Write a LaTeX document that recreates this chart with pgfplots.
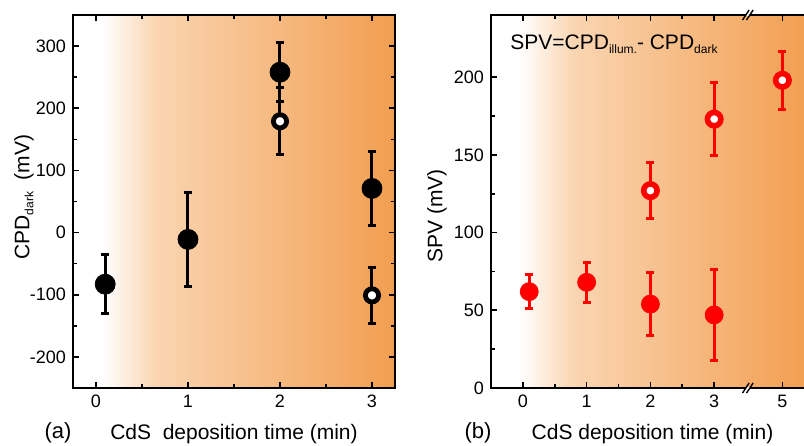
\documentclass[border=0pt]{standalone}
\usepackage{fontspec}
\setmainfont{Liberation Sans}
\usepackage{pgfplots}
\pgfplotsset{compat=1.18}
\definecolor{orL}{RGB}{250,213,177}
\definecolor{orR}{RGB}{242,158,80}
\definecolor{spvred}{RGB}{255,0,0}
% tikz maps 25bp..75bp of the shading onto the path
\pgfdeclarehorizontalshading{panelgrad}{100bp}{color(0bp)=(white); color(29.5bp)=(white); color(38bp)=(orL); color(75bp)=(orR); color(100bp)=(orR)}
\newcommand\sub[1]{\raisebox{-2pt}{\fontsize{6}{7}\selectfont #1}}
\tikzset{brk/.style={line width=0.7pt}}
\pgfplotsset{panel/.style={scale only axis, height=186.5pt,
  axis background/.style={shading=panelgrad},
  axis line style={line width=1pt},
  tick style={line width=0.8pt, black},
  major tick length=2.8pt, minor tick length=1.8pt,
  tick label style={font=\fontsize{9}{10}\selectfont},
  /pgf/number format/assume math mode=true, clip=false},
  bars/.style={error bars/.cd, y dir=both, y explicit,
  error bar style={line width=1.5pt, #1},
  error mark options={rotate=90, mark size=2pt, line width=1.5pt, #1}}}

\begin{document}
\begin{tikzpicture}
\path[use as bounding box, clip] (0,0) rectangle (402pt,222.5pt);

% (a) dark CPD
\begin{axis}[panel, at={(36.5pt,28.5pt)}, anchor=south west, width=161pt,
  xmin=-0.25, xmax=3.25, ymin=-250, ymax=350,
  xtick={0,1,2,3}, minor x tick num=1,
  ytick={-200,-100,...,300}, minor y tick num=1]
\addplot[only marks, mark=*, mark size=5pt, black, bars=black]
  coordinates {(0.1,-83) +- (0,47) (1,-11) +- (0,75) (2,258) +- (0,47) (3,71) +- (0,60)};
\addplot[only marks, mark=*, mark size=3.3pt, black, mark options={fill=white, draw=black, line width=2.4pt}, bars=black]
  coordinates {(2,179) +- (0,54) (3,-101) +- (0,45)};
\end{axis}

% (b) SPV
\begin{axis}[panel, at={(245.5pt,28.5pt)}, anchor=south west, width=159.4pt,
  xmin=-0.5, xmax=4.5, ymin=0, ymax=240,
  xtick={0,1,2,3,4.07}, xticklabels={0,1,2,3,5}, minor xtick={0.5,1.5,2.5},
  ytick={0,50,...,200}, minor y tick num=1]
\addplot[only marks, mark=*, mark size=4.5pt, spvred, bars=spvred]
  coordinates {(0.1,62) +- (0,11) (1,68) +- (0,13) (2,54) +- (0,20) (3,47) +- (0,29)};
\addplot[only marks, mark=*, mark size=3.35pt, spvred, mark options={fill=white, draw=spvred, line width=2.8pt}, bars=spvred]
  coordinates {(2,127) +- (0,18) (3,173) +- (0,23.5) (4.07,198) +- (0,18.5)};
% axis breaks
\fill[white] ([xshift=-1pt,yshift=-0.6pt]axis cs:3.53,0) rectangle ([xshift=1pt,yshift=0.6pt]axis cs:3.53,0);
\draw[brk] ([xshift=-2.7pt,yshift=-2.5pt]axis cs:3.53,0) -- ++(3.3pt,5pt);
\draw[brk] ([xshift=-0.7pt,yshift=-2.5pt]axis cs:3.53,0) -- ++(3.3pt,5pt);
\fill[white] ([xshift=-1pt,yshift=-0.6pt]axis cs:3.53,240) rectangle ([xshift=1pt,yshift=0.6pt]axis cs:3.53,240);
\draw[brk] ([xshift=-2.7pt,yshift=-2.5pt]axis cs:3.53,240) -- ++(3.3pt,5pt);
\draw[brk] ([xshift=-0.7pt,yshift=-2.5pt]axis cs:3.53,240) -- ++(3.3pt,5pt);
\end{axis}

\node[anchor=base, font=\fontsize{11}{13}\selectfont] at (29pt,3.5pt) {(a)};
\node[anchor=base, font=\fontsize{10.5}{12}\selectfont] at (117pt,2.8pt) {CdS\ \ deposition time (min)};
\node[anchor=base, font=\fontsize{11}{13}\selectfont] at (239pt,3.5pt) {(b)};
\node[anchor=base, font=\fontsize{10.5}{12}\selectfont] at (326.25pt,2.8pt) {CdS deposition time (min)};
\node[rotate=90, font=\fontsize{10.5}{12}\selectfont] at (12pt,124pt) {CPD\sub{dark}\ \ (mV)};
\node[rotate=90, font=\fontsize{10.5}{12}\selectfont] at (218.5pt,114.5pt) {SPV (mV)};
\node[anchor=base west, inner sep=0pt, font=\fontsize{10.5}{12}\selectfont] at (255pt,197.5pt) {SPV=CPD\sub{illum.}- CPD\sub{dark}};
\end{tikzpicture}
\end{document}
